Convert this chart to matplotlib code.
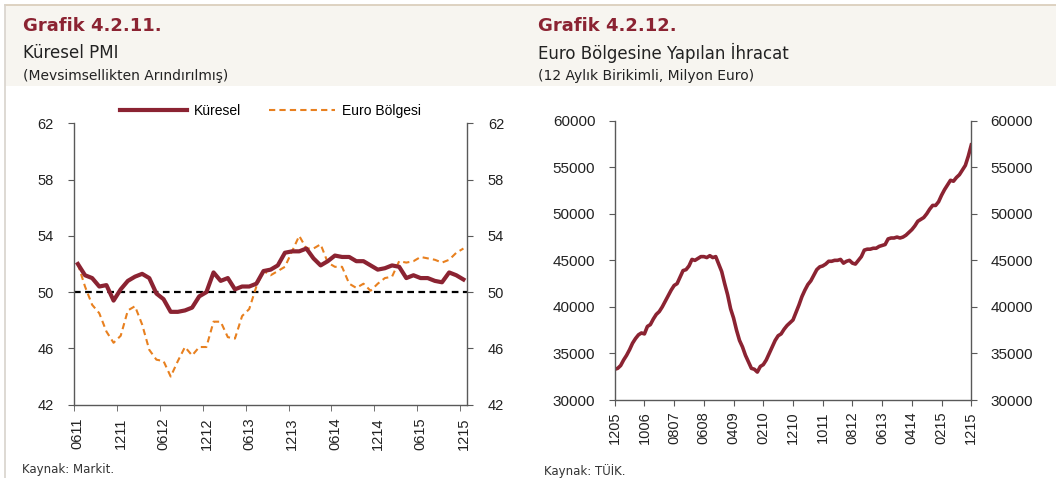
import numpy as np
import matplotlib
matplotlib.use("Agg")
import matplotlib.pyplot as plt
from matplotlib.patches import Rectangle
from matplotlib.lines import Line2D

# --- data: Küresel PMI (monthly 06/2011 - 12/2015) ---
pmi_global = [52.0, 51.2, 51.0, 50.4, 50.5, 49.4, 50.2, 50.8, 51.1, 51.3,
              51.0, 49.9, 49.5, 48.6, 48.6, 48.7, 48.9, 49.7, 50.0, 51.4,
              50.8, 51.0, 50.2, 50.4, 50.4, 50.6, 51.5, 51.6, 51.9, 52.8,
              52.9, 52.9, 53.1, 52.4, 51.9, 52.2, 52.6, 52.5, 52.5, 52.2,
              52.2, 51.9, 51.6, 51.7, 51.9, 51.8, 51.0, 51.2, 51.0, 51.0,
              50.8, 50.7, 51.4, 51.2, 50.9]
pmi_euro = [52.0, 50.4, 49.1, 48.5, 47.2, 46.4, 46.9, 48.7, 49.0, 47.7,
            45.9, 45.2, 45.1, 44.0, 45.1, 46.1, 45.5, 46.1, 46.1, 47.9,
            47.9, 46.8, 46.7, 48.3, 48.8, 50.4, 51.5, 51.2, 51.5, 51.8,
            52.9, 54.0, 53.1, 53.1, 53.4, 52.1, 51.8, 51.8, 50.6, 50.3,
            50.6, 50.1, 50.6, 51.0, 51.1, 52.2, 52.1, 52.2, 52.5, 52.4,
            52.3, 52.1, 52.3, 52.8, 53.1]
pmi_ticklabels = ["0611", "1211", "0612", "1212", "0613", "1213",
                  "0614", "1214", "0615", "1215"]

# --- data: Euro Bölgesine ihracat (12/2005 - 12/2015, bin milyon euro) ---
exports_k = [33.3, 33.4, 33.7, 34.3, 34.8, 35.4, 36.1, 36.6, 37.0, 37.2,
             37.1, 37.9, 38.1, 38.7, 39.2, 39.5, 40.0, 40.6, 41.2, 41.8,
             42.3, 42.5, 43.2, 43.9, 44.0, 44.4, 45.1, 45.0, 45.2, 45.4,
             45.4, 45.3, 45.5, 45.3, 45.4, 44.6, 43.8, 42.5, 41.3, 39.8,
             38.8, 37.5, 36.4, 35.7, 34.8, 34.1, 33.4, 33.3, 33.0, 33.6,
             33.8, 34.3, 35.0, 35.7, 36.4, 36.9, 37.1, 37.6, 38.0, 38.3,
             38.6, 39.4, 40.2, 41.1, 41.8, 42.4, 42.8, 43.4, 44.0, 44.3,
             44.4, 44.6, 44.9, 44.9, 45.0, 45.0, 45.1, 44.7, 44.9, 45.0,
             44.7, 44.6, 45.0, 45.4, 46.1, 46.2, 46.2, 46.3, 46.3, 46.5,
             46.6, 46.7, 47.3, 47.4, 47.4, 47.5, 47.4, 47.5, 47.7, 48.0,
             48.3, 48.7, 49.2, 49.4, 49.6, 50.0, 50.5, 50.9, 50.9, 51.3,
             52.0, 52.6, 53.1, 53.6, 53.5, 53.9, 54.2, 54.7, 55.2, 56.2,
             57.4]
exports = [v * 1000 for v in exports_k]
exp_ticklabels = ["1205", "1006", "0807", "0608", "0409", "0210", "1210",
                  "1011", "0812", "0613", "0414", "0215", "1215"]

RED = "#8B2332"
ORANGE = "#E8801F"
SPINE = "#595959"
HEAD = "DejaVu Sans"
TICKF = "Liberation Sans"

W, H = 1056, 478
fig = plt.figure(figsize=(W / 100, H / 100), dpi=100)

def fx(px):
    return px / W

def fy(py):
    return 1 - py / H

# header band and frame lines
fig.patches.append(Rectangle((fx(5), fy(86)), 1, fy(5) - fy(86), transform=fig.transFigure,
                             facecolor="#F7F5F0", edgecolor="none", zorder=0))
fig.lines.append(Line2D([fx(5), 1], [fy(5), fy(5)], transform=fig.transFigure,
                        color="#D8CBB8", lw=1.2))
fig.lines.append(Line2D([fx(5), fx(5)], [0, fy(5)], transform=fig.transFigure,
                        color="#D8D3CC", lw=1.2))

# titles
for x0, t1, t2, t3 in [(23, "Grafik 4.2.11.", "Küresel PMI", "(Mevsimsellikten Arındırılmış)"),
                       (538, "Grafik 4.2.12.", "Euro Bölgesine Yapılan İhracat",
                        "(12 Aylık Birikimli, Milyon Euro)")]:
    fig.text(fx(x0), fy(26), t1, family=HEAD, fontsize=13, fontweight="bold",
             color=RED, va="center", ha="left")
    fig.text(fx(x0), fy(53), t2, family=HEAD, fontsize=12, color="#222222",
             va="center", ha="left")
    fig.text(fx(x0), fy(76), t3, family=HEAD, fontsize=10, color="#222222",
             va="center", ha="left")

fig.text(fx(22), fy(469), "Kaynak: Markit.", family=HEAD, fontsize=8.5,
         color="#333333", va="center")
fig.text(fx(544), fy(471), "Kaynak: TÜİK.", family=HEAD, fontsize=8.5,
         color="#333333", va="center")

# ---- left chart ----
ax1 = fig.add_axes([fx(74.3), fy(404.7), fx(467) - fx(74.3), fy(123.3) - fy(404.7)])
x1 = np.arange(len(pmi_global))
ax1.axhline(50, color="black", lw=1.6, ls=(0, (3, 2)), zorder=1)
ax1.plot(x1, pmi_euro, color=ORANGE, lw=1.5, ls=(0, (3, 2)), label="Euro Bölgesi", zorder=2)
ax1.plot(x1, pmi_global, color=RED, lw=3.0, label="Küresel", zorder=3)
ax1.set_xlim(-0.5, len(pmi_global) - 0.5)
ax1.set_ylim(42, 62)
ax1.set_yticks(range(42, 63, 4))
lab_pos = np.arange(0, len(pmi_global), 6)
ax1.set_xticks(lab_pos, pmi_ticklabels, rotation=90)
ax1.set_xticks(lab_pos - 0.5, minor=True)
ax1.tick_params(axis="x", which="major", length=0, pad=9)
ax1.tick_params(axis="x", which="minor", length=4, color=SPINE, direction="out")
ax1.tick_params(axis="y", length=4, color=SPINE, right=True, labelright=True, pad=11)
h, l = ax1.get_legend_handles_labels()
ax1.legend([h[1], h[0]], [l[1], l[0]], ncol=2, loc="center", bbox_to_anchor=(0.5, 1.044),
           frameon=False, handlelength=4.8, handletextpad=0.5, columnspacing=2.0,
           prop={"family": TICKF, "size": 10})

# ---- right chart ----
ax2 = fig.add_axes([fx(614.7), fy(400), fx(971.3) - fx(614.7), fy(120.7) - fy(400)])
x2 = np.arange(len(exports))
ax2.plot(x2, exports, color=RED, lw=2.6)
ax2.set_xlim(0, len(exports) - 1)
ax2.set_ylim(30000, 60000)
ax2.set_yticks(range(30000, 60001, 5000))
ax2.set_xticks(np.arange(0, len(exports), 10), exp_ticklabels, rotation=90)
ax2.tick_params(axis="x", length=4, color=SPINE, pad=4)
ax2.tick_params(axis="y", length=4, color=SPINE, right=True, labelright=True, pad=10)

for ax, fs in [(ax1, 10.5), (ax2, 11)]:
    ax.spines["top"].set_visible(False)
    for s in ["left", "right", "bottom"]:
        ax.spines[s].set_color(SPINE)
        ax.spines[s].set_linewidth(1.0)
    for lab in ax.get_yticklabels():
        lab.set_family(TICKF)
        lab.set_fontsize(fs)
        lab.set_color("#222222")
    for lab in ax.get_xticklabels():
        lab.set_family(TICKF)
        lab.set_fontsize(10.5)
        lab.set_color("#222222")
    ax.set_facecolor("none")

fig.savefig("out.png", dpi=100)
